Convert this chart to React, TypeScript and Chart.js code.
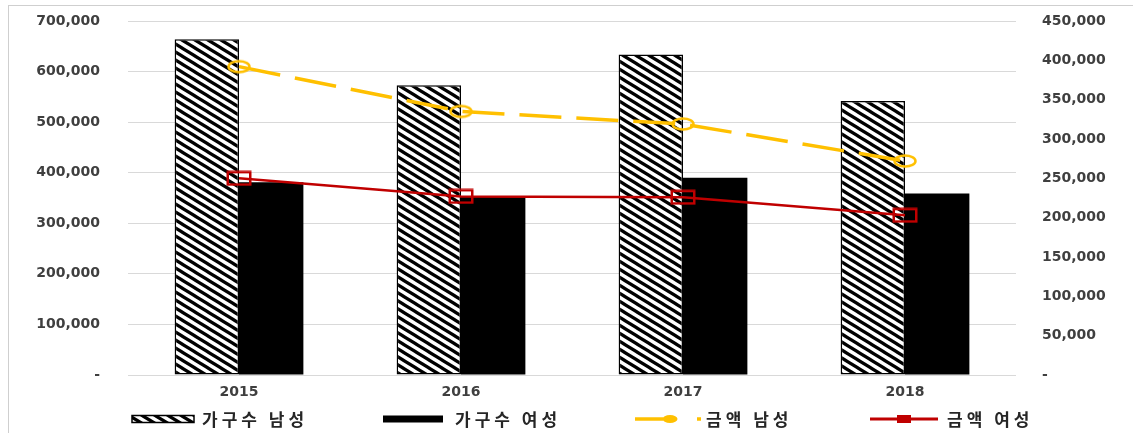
import React, { useEffect, useRef } from "react";
import { Chart, registerables } from "chart.js";

Chart.register(...registerables);

// ---- data ----
const categories = ["2015", "2016", "2017", "2018"];
const householdMale = [664000, 573000, 634000, 542000];
const householdFemale = [381000, 352000, 390000, 359000];
const amountMale = [392000, 335000, 319000, 272000];
const amountFemale = [250000, 227000, 226000, 203000];
const seriesLabels = ["가구수 남성", "가구수 여성", "금액 남성", "금액 여성"];
const leftAxisMax = 700000;
const leftAxisStep = 100000;
const rightAxisMax = 450000;
const rightAxisStep = 50000;

// ---- styles / layout ----
const YELLOW = "#FFC000";
const RED = "#C00000";
const TICK_COLOR = "#3f3f3f";
const GRID_COLOR = "#d9d9d9";
const legendSwatchX = [132, 383, 635, 870];
const legendTextX = [202, 455, 706, 947];
const legendY = 419;

function makeHatch(): CanvasPattern | string {
  const W = 13;
  const H = 8;
  const c = document.createElement("canvas");
  c.width = W;
  c.height = H;
  const g = c.getContext("2d")!;
  g.fillStyle = "#fff";
  g.fillRect(0, 0, W, H);
  g.strokeStyle = "#000";
  g.lineWidth = 3.2;
  g.beginPath();
  for (let j = -2; j <= 2; j++) {
    g.moveTo(-W, -H + j * H);
    g.lineTo(2 * W, 2 * H + j * H);
  }
  g.stroke();
  const p = g.createPattern(c, "repeat");
  return p || "#000";
}

function makeEllipse(color: string, w: number, h: number, lw: number) {
  const c = document.createElement("canvas");
  c.width = w;
  c.height = h;
  const g = c.getContext("2d")!;
  g.strokeStyle = color;
  g.lineWidth = lw;
  g.beginPath();
  g.ellipse(w / 2, h / 2, w / 2 - lw, h / 2 - lw, 0, 0, Math.PI * 2);
  g.stroke();
  return c;
}

function makeRect(color: string, w: number, h: number, lw: number) {
  const c = document.createElement("canvas");
  c.width = w;
  c.height = h;
  const g = c.getContext("2d")!;
  g.strokeStyle = color;
  g.lineWidth = lw;
  g.strokeRect(lw / 2 + 0.5, lw / 2 + 0.5, w - lw - 1, h - lw - 1);
  return c;
}

const fmt = (v: number) => (v === 0 ? "-" : Math.round(v).toLocaleString("en-US"));

export default function App() {
  const ref = useRef<HTMLCanvasElement | null>(null);

  useEffect(() => {
    document.body.style.margin = "0";
    const canvas = ref.current;
    if (!canvas) return;
    const hatch = makeHatch();
    const circleImg = makeEllipse(YELLOW, 26, 16, 2.5);
    const squareImg = makeRect(RED, 26, 16, 2.5);

    const legendPlugin = {
      id: "customLegend",
      afterDraw(chart: any) {
        const ctx = chart.ctx as CanvasRenderingContext2D;
        const y = legendY;
        ctx.save();
        chart.data.datasets.forEach((ds: any, i: number) => {
          const sx = legendSwatchX[i];
          if (i === 0) {
            ctx.fillStyle = hatch as any;
            ctx.fillRect(sx, y - 3.5, 62, 7);
            ctx.strokeStyle = "#000";
            ctx.lineWidth = 1.5;
            ctx.strokeRect(sx, y - 3.5, 62, 7);
          } else if (i === 1) {
            ctx.fillStyle = "#000";
            ctx.fillRect(sx, y - 3.5, 60, 7);
          } else if (i === 2) {
            ctx.strokeStyle = YELLOW;
            ctx.lineWidth = 3.5;
            ctx.beginPath();
            ctx.moveTo(sx, y);
            ctx.lineTo(sx + 28, y);
            ctx.stroke();
            ctx.fillStyle = YELLOW;
            ctx.beginPath();
            ctx.ellipse(sx + 35, y, 7.5, 4, 0, 0, Math.PI * 2);
            ctx.fill();
            ctx.beginPath();
            ctx.moveTo(sx + 62, y);
            ctx.lineTo(sx + 66, y);
            ctx.stroke();
          } else {
            ctx.strokeStyle = RED;
            ctx.lineWidth = 3;
            ctx.beginPath();
            ctx.moveTo(sx, y);
            ctx.lineTo(sx + 68, y);
            ctx.stroke();
            ctx.fillStyle = RED;
            ctx.fillRect(sx + 27, y - 4, 14, 8);
          }
          ctx.fillStyle = "#262626";
          ctx.font = 'bold 17px "Noto Sans CJK KR", sans-serif';
          ctx.textBaseline = "middle";
          ctx.textAlign = "left";
          try {
            (ctx as any).letterSpacing = "4px";
          } catch (e) {}
          ctx.fillText(ds.label, legendTextX[i], y + 1);
          try {
            (ctx as any).letterSpacing = "0px";
          } catch (e) {}
        });
        ctx.restore();
      },
    };

    const tickFont = { family: '"DejaVu Sans", sans-serif', size: 14, weight: "bold" as const };

    const chart = new Chart(canvas, {
      type: "bar",
      data: {
        labels: categories,
        datasets: [
          {
            type: "bar",
            label: seriesLabels[0],
            data: householdMale,
            backgroundColor: hatch as any,
            borderColor: "#000",
            borderWidth: 1.5,
            borderSkipped: false,
            yAxisID: "y",
            order: 2,
            categoryPercentage: 0.58,
            barPercentage: 1,
          },
          {
            type: "bar",
            label: seriesLabels[1],
            data: householdFemale,
            backgroundColor: "#000",
            borderWidth: 0,
            yAxisID: "y",
            order: 2,
            categoryPercentage: 0.58,
            barPercentage: 1,
          },
          {
            type: "line",
            label: seriesLabels[2],
            data: amountMale,
            borderColor: YELLOW,
            borderWidth: 3.5,
            borderDash: [42, 15],
            pointStyle: circleImg as any,
            pointRadius: 8,
            yAxisID: "y1",
            order: 1,
            tension: 0,
          },
          {
            type: "line",
            label: seriesLabels[3],
            data: amountFemale,
            borderColor: RED,
            borderWidth: 2.5,
            pointStyle: squareImg as any,
            pointRadius: 8,
            yAxisID: "y1",
            order: 1,
            tension: 0,
          },
        ] as any,
      },
      options: {
        animation: false,
        responsive: false,
        layout: { padding: { top: 21, bottom: 28, left: 0, right: 0 } },
        plugins: {
          legend: { display: false },
          tooltip: { enabled: false },
        },
        scales: {
          x: {
            grid: { display: false, drawTicks: false },
            border: { display: false },
            ticks: { color: TICK_COLOR, font: tickFont, padding: 9 },
            afterFit: (s: any) => {
              s.height = 30;
            },
          },
          y: {
            position: "left",
            min: 0,
            max: leftAxisMax,
            ticks: {
              stepSize: leftAxisStep,
              color: TICK_COLOR,
              font: tickFont,
              padding: 28,
              callback: (v: any) => fmt(Number(v)),
            },
            grid: { color: GRID_COLOR, lineWidth: 1, drawTicks: false },
            border: { display: false },
            afterFit: (s: any) => {
              s.width = 128;
              s.paddingTop = 0;
              s.paddingBottom = 0;
            },
          },
          y1: {
            position: "right",
            min: 0,
            max: rightAxisMax,
            ticks: {
              stepSize: rightAxisStep,
              color: TICK_COLOR,
              font: tickFont,
              padding: 26,
              callback: (v: any) => fmt(Number(v)),
            },
            grid: { display: false, drawTicks: false },
            border: { display: false },
            afterFit: (s: any) => {
              s.width = 117;
              s.paddingTop = 0;
              s.paddingBottom = 0;
            },
          },
        },
      } as any,
      plugins: [legendPlugin],
    });

    return () => chart.destroy();
  }, []);

  return (
    <div style={{ position: "relative", width: 1133, height: 433, background: "#fff" }}>
      <div
        style={{
          position: "absolute",
          left: 8,
          top: 5,
          right: 0,
          bottom: 0,
          borderTop: "1px solid #cfcfcf",
          borderLeft: "1px solid #cfcfcf",
          pointerEvents: "none",
        }}
      />
      <canvas ref={ref} width={1133} height={433} style={{ position: "absolute", left: 0, top: 0 }} />
    </div>
  );
}
